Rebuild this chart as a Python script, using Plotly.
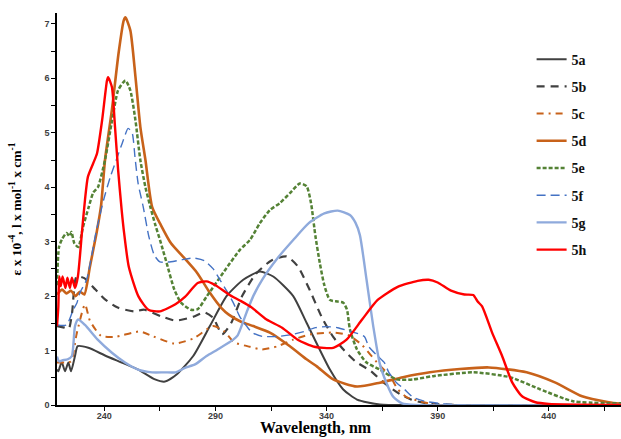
import plotly.graph_objects as go

# UV-Vis absorption spectra of compounds 5a-5h
# wavelength (nm) and molar absorptivity (x 10^4 l/mol/cm)

wl_5a = [218.7, 219.3, 220.8, 222.3, 223.8, 225.0, 226.8, 228.0, 232.8, 240.3, 247.8, 255.3,
         262.8, 267.3, 272.5, 280.0, 287.5, 295.0, 302.5, 310.0, 316.0, 325.0, 331.0, 341.5,
         347.4, 353.7, 364.0, 380.0, 472.5]
eps_5a = [0.65, 0.62, 0.79, 0.62, 0.78, 0.62, 0.90, 1.08, 1.05, 0.91, 0.78, 0.65,
          0.47, 0.43, 0.56, 0.90, 1.45, 2.00, 2.30, 2.45, 2.36, 2.00, 1.51, 0.65,
          0.29, 0.10, 0.01, 0.0, 0.0]

wl_5b = [218.7, 222.0, 224.0, 225.5, 227.5, 231.0, 236.0, 240.3, 246.0, 253.5, 258.0, 265.5,
         272.0, 280.0, 285.0, 289.0, 293.0, 297.0, 302.0, 308.0, 315.0, 322.0, 327.0, 332.0,
         338.0, 343.0, 348.0, 353.0, 360.0, 366.0, 373.0, 378.0, 385.0, 400.0, 472.5]
eps_5b = [1.45, 1.42, 1.40, 1.70, 2.36, 2.33, 2.12, 1.94, 1.79, 1.72, 1.75, 1.63,
          1.55, 1.62, 1.70, 1.60, 1.30, 1.50, 2.00, 2.40, 2.65, 2.73, 2.55, 2.15,
          1.60, 1.25, 1.00, 0.80, 0.62, 0.40, 0.20, 0.10, 0.03, 0.0, 0.0]

wl_5c = [218.7, 222.0, 225.0, 227.5, 231.3, 233.5, 238.5, 244.5, 256.0, 262.0, 271.5, 280.0,
         289.0, 294.0, 298.5, 305.5, 311.0, 318.0, 325.0, 333.0, 343.0, 350.0, 356.0, 362.7,
         368.6, 372.0, 376.2, 382.0, 390.0, 472.5]
eps_5c = [0.78, 0.78, 0.80, 1.30, 1.85, 1.55, 1.27, 1.25, 1.35, 1.26, 1.13, 1.22,
          1.45, 1.35, 1.15, 1.07, 1.02, 1.08, 1.20, 1.30, 1.33, 1.28, 1.10, 0.78,
          0.53, 0.29, 0.14, 0.07, 0.0, 0.0]

wl_5d = [218.7, 221.0, 223.0, 225.0, 227.0, 229.0, 231.0, 233.5, 236.5, 238.5, 240.3, 243.4,
         246.4, 248.7, 249.5, 251.7, 254.0, 256.2, 258.5, 261.5, 265.5, 270.0, 275.5, 281.7,
         287.5, 292.7, 296.0, 301.5, 307.0, 314.5, 323.5, 331.0, 335.6, 343.0, 353.7, 364.0,
         374.4, 386.5, 400.0, 413.0, 430.0, 443.0, 455.0, 467.0, 472.5]
eps_5d = [2.03, 2.12, 2.05, 2.10, 2.00, 2.08, 2.03, 2.54, 3.16, 3.65, 4.50, 5.42,
          6.46, 7.06, 7.12, 6.88, 6.03, 5.11, 4.50, 3.64, 3.30, 2.97, 2.72, 2.43,
          2.06, 1.78, 1.66, 1.53, 1.45, 1.33, 1.08, 0.84, 0.71, 0.47, 0.34, 0.41,
          0.51, 0.60, 0.66, 0.69, 0.60, 0.41, 0.16, 0.05, 0.02]

wl_5e = [218.7, 219.6, 221.0, 223.0, 224.3, 225.2, 226.5, 228.3, 230.4, 233.0, 235.0, 237.1,
         240.3, 243.5, 246.2, 249.5, 251.7, 254.0, 256.2, 258.5, 260.7, 263.0, 265.5, 268.5,
         271.5, 274.5, 279.0, 282.0, 286.0, 293.5, 301.0, 305.5, 310.0, 314.5, 319.0, 323.5,
         328.0, 331.0, 333.0, 335.0, 337.0, 339.0, 341.5, 345.0, 347.5, 349.2, 350.5, 353.7,
         358.0, 364.0, 371.6, 378.9, 388.0, 406.0, 422.6, 436.0, 450.9, 472.5]
eps_5e = [2.20, 2.90, 3.05, 3.16, 3.10, 3.18, 2.97, 2.90, 3.27, 3.64, 3.90, 4.00,
          4.50, 5.23, 5.78, 5.96, 5.78, 5.23, 4.50, 4.00, 3.64, 3.30, 2.97, 2.54,
          2.12, 1.88, 1.75, 1.76, 1.99, 2.43, 2.85, 3.03, 3.34, 3.58, 3.71, 3.89,
          4.07, 4.02, 3.71, 3.10, 2.60, 2.20, 1.93, 1.90, 1.88, 1.75, 1.39, 1.02,
          0.78, 0.65, 0.47, 0.47, 0.53, 0.60, 0.51, 0.29, 0.07, 0.03]

wl_5f = [218.7, 223.0, 226.0, 227.7, 229.0, 232.0, 235.0, 236.2, 239.7, 242.7, 245.8, 248.5,
         250.7, 252.5, 253.8, 255.2, 257.5, 260.0, 262.5, 265.0, 270.0, 275.0, 280.0, 285.0,
         289.0, 292.0, 295.0, 298.0, 301.0, 304.0, 306.5, 311.0, 318.0, 324.0, 330.0, 335.0,
         340.0, 345.0, 350.0, 357.0, 359.0, 363.0, 366.0, 368.0, 371.5, 375.0, 379.0, 384.0,
         393.0, 400.0, 472.5]
eps_5f = [1.47, 1.47, 1.75, 1.88, 2.06, 2.30, 2.90, 3.16, 3.77, 4.19, 4.55, 4.86,
          5.08, 5.00, 4.55, 4.07, 3.64, 3.10, 2.75, 2.63, 2.63, 2.67, 2.70, 2.65,
          2.50, 2.30, 2.10, 1.88, 1.62, 1.45, 1.33, 1.26, 1.26, 1.29, 1.35, 1.42,
          1.44, 1.42, 1.36, 1.26, 1.07, 0.90, 0.78, 0.60, 0.41, 0.29, 0.14, 0.07,
          0.02, 0.0, 0.0]

wl_5g = [218.7, 219.7, 221.0, 223.5, 225.4, 226.8, 228.2, 231.3, 237.0, 243.4, 249.3, 255.2,
         261.5, 267.0, 272.0, 276.3, 281.0, 286.0, 291.0, 298.0, 300.0, 304.0, 307.0, 311.0,
         318.0, 325.0, 332.0, 339.0, 345.0, 350.5, 353.0, 355.0, 358.0, 361.0, 364.0, 367.0,
         370.0, 374.0, 380.0, 472.5]
eps_5g = [0.89, 0.80, 0.82, 0.84, 0.90, 1.45, 1.57, 1.47, 1.20, 0.96, 0.78, 0.65,
          0.60, 0.60, 0.60, 0.68, 0.75, 0.90, 1.02, 1.20, 1.28, 1.70, 2.00, 2.30,
          2.70, 3.03, 3.34, 3.52, 3.57, 3.49, 3.35, 3.12, 2.30, 1.45, 0.75, 0.40,
          0.15, 0.03, 0.0, 0.0]

wl_5h = [218.7, 219.3, 219.7, 220.4, 221.2, 222.5, 223.4, 224.5, 225.4, 226.8, 228.1, 229.9,
         231.3, 232.6, 235.0, 236.7, 239.0, 241.2, 241.7, 243.4, 244.8, 246.2, 247.8, 248.9,
         251.0, 255.4, 259.8, 265.0, 272.0, 276.4, 282.0, 286.0, 290.0, 296.0, 301.0, 306.0,
         313.0, 320.0, 327.0, 334.5, 343.0, 349.0, 356.0, 363.0, 372.0, 381.0, 386.0, 390.0,
         396.0, 402.0, 406.0, 408.0, 410.0, 414.5, 419.0, 423.6, 428.0, 434.0, 440.0, 472.5]
eps_5h = [1.45, 1.80, 2.36, 2.18, 2.36, 2.15, 2.34, 2.15, 2.34, 2.15, 2.36, 3.16,
          3.77, 4.19, 4.44, 4.62, 5.23, 5.96, 6.02, 5.84, 5.11, 4.32, 3.58, 3.16,
          2.54, 1.99, 1.75, 1.72, 1.85, 1.99, 2.24, 2.27, 2.20, 2.03, 1.92, 1.80,
          1.57, 1.42, 1.20, 1.07, 1.05, 1.20, 1.57, 1.93, 2.17, 2.28, 2.30, 2.25,
          2.10, 2.03, 2.02, 1.90, 1.81, 1.33, 0.90, 0.41, 0.16, 0.05, 0.02, 0.0]

names = ["5a", "5b", "5c", "5d", "5e", "5f", "5g", "5h"]
wavelengths = [wl_5a, wl_5b, wl_5c, wl_5d, wl_5e, wl_5f, wl_5g, wl_5h]
absorptivity = [eps_5a, eps_5b, eps_5c, eps_5d, eps_5e, eps_5f, eps_5g, eps_5h]

x_ticks = [240, 290, 340, 390, 440]
y_ticks = [0, 1, 2, 3, 4, 5, 6, 7]

styles = {
    "5a": dict(color="#404040", width=2.0, dash="solid"),
    "5b": dict(color="#404040", width=2.2, dash="8px,6px"),
    "5c": dict(color="#C8621A", width=2.0, dash="7px,5px,2px,5px"),
    "5d": dict(color="#C8621A", width=2.6, dash="solid"),
    "5e": dict(color="#548235", width=2.5, dash="4px,2px"),
    "5f": dict(color="#4472C4", width=1.4, dash="9px,5px"),
    "5g": dict(color="#8FAADC", width=2.4, dash="solid"),
    "5h": dict(color="#FF0000", width=2.4, dash="solid"),
}

fig = go.Figure()
for name, wl, eps in zip(names, wavelengths, absorptivity):
    fig.add_trace(go.Scatter(
        x=wl, y=eps, mode="lines", name=name, legendgroup=name,
        line=dict(shape="spline", smoothing=0.6, **styles[name]),
    ))

tick_font = dict(family="Liberation Sans", size=9, color="#404040", weight="bold")

fig.update_layout(
    width=621, height=439,
    margin=dict(l=57, r=0, t=13, b=34),
    paper_bgcolor="white", plot_bgcolor="white",
    showlegend=True,
    legend=dict(
        x=0.8415, y=0.922, xanchor="left", yanchor="top",
        font=dict(family="Liberation Serif", size=14, color="#111111", weight="bold"),
        tracegroupgap=6, itemwidth=30, bgcolor="rgba(0,0,0,0)",
    ),
    xaxis=dict(
        range=[218.7, 472.5], tickvals=x_ticks, ticks="outside", ticklen=4,
        tickcolor="#000000", showline=True, linecolor="#000000", linewidth=1.5,
        showgrid=False, zeroline=False, tickfont=tick_font, ticklabelstandoff=-3,
        minor=dict(dtick=25, tick0=215, ticks="outside", ticklen=4, tickcolor="#000000"),
    ),
    yaxis=dict(
        range=[0, 7.2], tickvals=y_ticks, ticks="outside", ticklen=4,
        tickcolor="#000000", showline=True, linecolor="#000000", linewidth=1.5,
        showgrid=False, zeroline=False, tickfont=tick_font,
        minor=dict(dtick=0.5, ticks="outside", ticklen=4, tickcolor="#000000"),
        title=dict(text="ε x 10<sup>-4</sup>, l x mol<sup>-1</sup> x cm<sup>-1</sup>",
                   font=dict(family="Liberation Serif", size=13.5, color="#000000", weight="bold"),
                   standoff=20),
    ),
    annotations=[dict(
        text="Wavelength, nm", xref="paper", yref="paper",
        x=0.459, y=-0.0867, xanchor="center", yanchor="bottom",
        showarrow=False,
        font=dict(family="Liberation Serif", size=16, color="#000000", weight="bold"),
    )],
)

fig.write_html("out.html")
